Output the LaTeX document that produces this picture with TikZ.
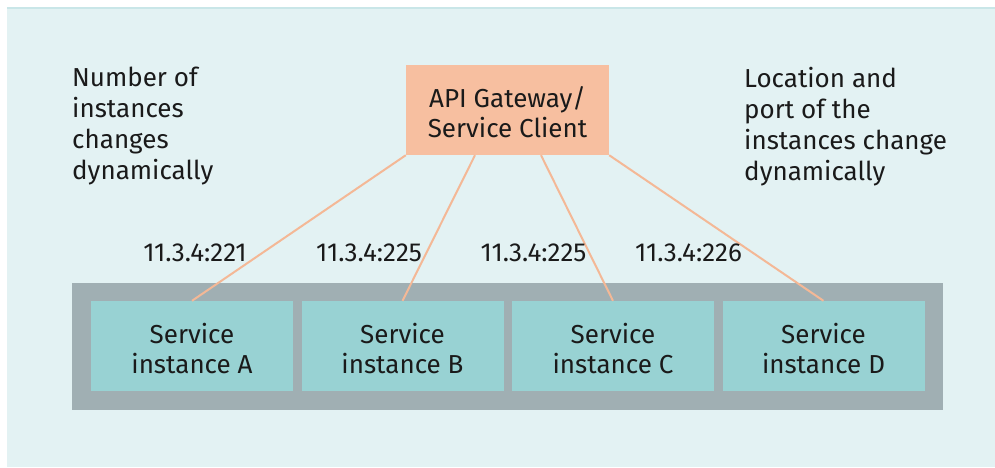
\documentclass[tikz,border=0pt]{standalone}
\usepackage{fontspec}
\setmainfont{Fira Sans}
\definecolor{bgc}{HTML}{E3F2F3}
\definecolor{bgline}{HTML}{C9E6E8}
\definecolor{gwc}{HTML}{F7BFA0}
\definecolor{linkc}{HTML}{F4B896}
\definecolor{contc}{HTML}{A0AFB3}
\definecolor{instc}{HTML}{98D2D3}
\definecolor{txtc}{HTML}{1A1A1A}
\begin{document}
\begin{tikzpicture}[x=1pt,y=-1pt,
  every node/.style={text=txtc,font=\fontsize{26}{30}\selectfont},
  inst/.style={fill=instc,draw=none,minimum width=202pt,minimum height=90pt,inner sep=0pt,align=center},
  gw/.style={fill=gwc,draw=none,minimum width=203pt,minimum height=90pt,inner sep=0pt,align=center},
  link/.style={draw=linkc,line width=2pt},
  side/.style={anchor=north west,align=left,inner sep=0pt,font=\fontsize{26}{31}\selectfont},
  addr/.style={inner sep=0pt},
  lbl/.style={inner sep=0pt,align=center}]
\useasboundingbox (0,0) rectangle (995,467);
\fill[white] (0,0) rectangle (995,467);
\fill[bgc] (7,7) rectangle (995,467);
\draw[bgline,line width=1.5pt] (7,7.75) -- (995,7.75);
\fill[contc] (72,283) rectangle (943,410);
\node[gw] (gw) at (507.5,110) {};
\node[lbl] at ([yshift=-2pt]gw.center) {API Gateway/\\Service Client};
\node[inst] (A) at (192,346) {};
\node[inst] (B) at (402.5,346) {};
\node[inst] (C) at (613,346) {};
\node[inst] (D) at (823.5,346) {};
\node[lbl] at ([yshift=-2.5pt]A.center) {Service\\instance A};
\node[lbl] at ([yshift=-2.5pt]B.center) {Service\\instance B};
\node[lbl] at ([yshift=-2.5pt]C.center) {Service\\instance C};
\node[lbl] at ([yshift=-2.5pt]D.center) {Service\\instance D};
\draw[link] (gw.south west) -- (A.north);
\draw[link] ([xshift=-32.5pt]gw.south) -- (B.north);
\draw[link] ([xshift=33.5pt]gw.south) -- (C.north);
\draw[link] (gw.south east) -- (D.north);
\node[addr] (lA) at (195,253) {11.3.4:221};
\node[addr] (lB) at (369,253) {11.3.4:225};
\node[addr] (lC) at (533.5,253) {11.3.4:225};
\node[addr] (lD) at (688.5,253) {11.3.4:226};
\node[side] (left) at (72,67) {Number of\\instances\\changes\\dynamically};
\node[side] (right) at (744,67) {Location and\\port of the\\instances change\\dynamically};
\end{tikzpicture}
\end{document}
